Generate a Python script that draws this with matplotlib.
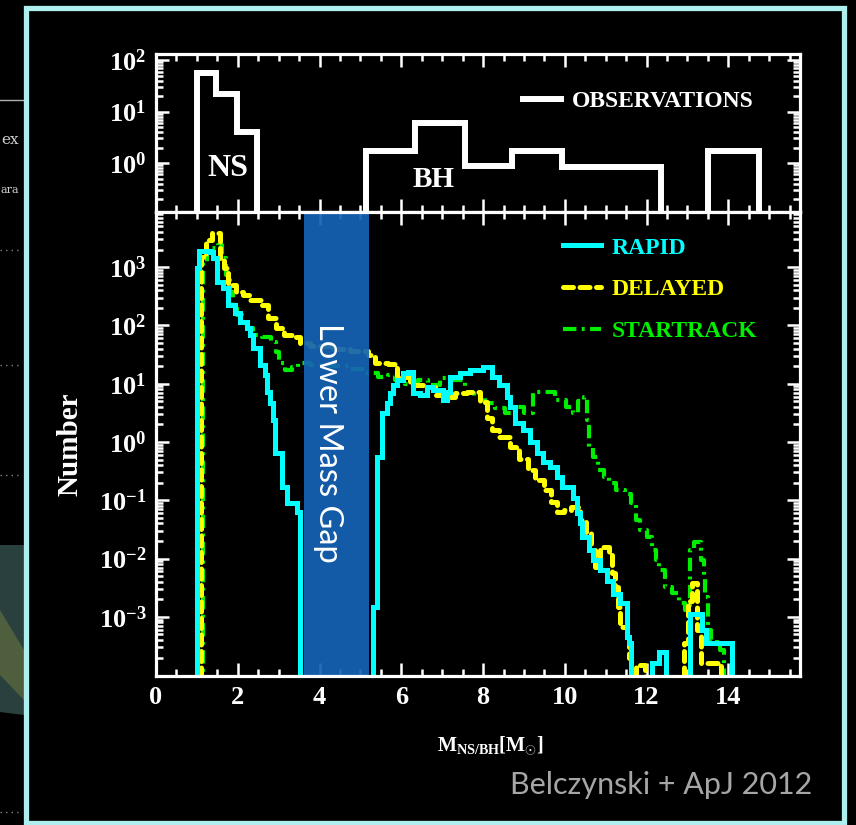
import numpy as np
import matplotlib
matplotlib.use("Agg")
import matplotlib.pyplot as plt
from matplotlib.ticker import FixedLocator, FixedFormatter, LogLocator, NullFormatter
from matplotlib.patches import Rectangle, Polygon
from matplotlib.lines import Line2D

plt.rcParams['font.family'] = ['Liberation Serif', 'DejaVu Serif']
plt.rcParams['font.weight'] = 'bold'
plt.rcParams['axes.labelweight'] = 'bold'
plt.rcParams['mathtext.fontset'] = 'custom'
plt.rcParams['mathtext.rm'] = 'Liberation Serif:bold'
plt.rcParams['mathtext.bf'] = 'Liberation Serif:bold'
plt.rcParams['mathtext.it'] = 'Liberation Serif:italic:bold'

Z = 1e-8  # empty bin (below the log axis)

# ---------------- data ----------------
obs_x = [0.90, 1.00, 1.46, 1.98, 2.47, 5.13, 6.33, 7.55, 8.72, 9.92, 12.36, 13.49, 14.76, 15.5]
obs_y = [Z, 56, 22, 4.0, Z, 1.7, 6.0, 0.87, 1.7, 0.85, Z, 1.7, Z, Z]

rapid_x = [0.90, 1.00, 1.05, 1.32, 1.39, 1.49, 1.64, 1.76, 1.93, 2.05, 2.22, 2.30, 2.37, 2.54,
           2.66, 2.71, 2.79, 2.86, 2.91, 3.08, 3.20, 3.44, 3.52,
           5.30, 5.40, 5.52, 5.64, 5.72, 5.79, 5.89, 6.03, 6.16, 6.28, 6.45, 6.62, 6.77, 7.01,
           7.11, 7.18, 7.43, 7.67, 7.99, 8.23, 8.40, 8.58, 8.65, 8.77, 8.97, 9.14, 9.31, 9.46,
           9.63, 9.80, 9.94, 10.19, 10.29, 10.36, 10.43, 10.60, 10.68, 10.85, 11.02, 11.17,
           11.34, 11.51, 11.53, 11.58, 11.63,
           12.14, 12.31, 12.48, 13.05, 13.36, 13.46, 14.10, 14.5]
rapid_y = [Z, 960, 1900, 1800, 1420, 550, 435, 223, 163, 114, 90, 68, 41, 21,
           14, 7.2, 4.7, 2.4, 0.65, 0.17, 0.089, 0.063, Z,
           0.0015, 0.55, 3.2, 4.7, 6.9, 9.5, 11.5, 15, 16, 6.9, 6.3, 8.7, 7.8, 5.2,
           7.2, 13, 15, 17, 19, 13, 9.5, 5.9, 4.0, 2.1, 1.6, 1.0, 0.65, 0.46,
           0.37, 0.25, 0.17, 0.11, 0.060, 0.041, 0.023, 0.014, 0.0095, 0.0063, 0.0042, 0.0025,
           0.0017, 0.0013, 4.5e-4, 3.5e-4, Z,
           1.6e-4, 2.5e-4, Z, 1.1e-3, 5.9e-4, 3.5e-4, Z, Z]

delayed_x = [0.90, 1.10, 1.22, 1.37, 1.56, 1.66, 1.76, 1.95, 2.13, 2.30,
             2.59, 2.74, 2.93, 3.13, 3.32, 3.52, 3.76, 4.25, 4.74, 5.18,
             5.35, 5.67, 5.89, 6.21, 6.55, 6.82, 7.06, 7.31, 7.60, 7.92,
             8.09, 8.23, 8.40, 8.65, 8.89, 9.09, 9.28, 9.48, 9.65, 9.82,
             9.99, 10.16, 10.36, 10.51, 10.63, 10.73, 10.85, 11.08, 11.15, 11.22,
             11.30, 11.36, 11.51, 11.56, 11.63, 11.73, 11.95, 12.92, 13.02, 13.12,
             13.24, 13.34, 13.83, 14.5]
delayed_y = [Z, 1500, 2900, 3800, 1420, 960, 490, 370, 330, 270,
             220, 134, 90, 68, 63, 50, 45, 40, 36, 31,
             23, 22, 13, 9.5, 8.7, 6.3, 5.9, 6.9, 7.2, 4.8,
             2.6, 1.6, 1.2, 0.81, 0.52, 0.33, 0.22, 0.15, 0.093, 0.063,
             0.068, 0.076, 0.046, 0.027, 0.014, 0.0071, 0.016, 0.013, 0.0056, 0.0032,
             0.0015, 6.8e-4, 4.5e-4, 2e-4, Z, 1.5e-4, Z, 3.5e-4, 1.9e-3, 3.8e-3,
             6e-4, 1.6e-4, Z, Z]

startrack_x = [0.90, 1.15, 1.25, 1.39, 1.51, 1.61, 1.71, 1.81, 1.88, 1.98,
               2.10, 2.22, 2.37, 2.59, 2.81, 2.93, 3.01, 3.15, 3.32, 3.47,
               3.76, 4.25, 4.74, 5.11, 5.42, 5.67, 5.84, 6.08, 6.40, 6.65,
               6.94, 7.26, 7.55, 7.79, 8.04, 8.28, 8.53, 8.77, 8.99, 9.21,
               9.50, 9.75, 10.04, 10.21, 10.33, 10.48, 10.55, 10.60, 10.70, 10.80,
               10.95, 11.09, 11.24, 11.46, 11.61, 11.73, 11.85, 12.00, 12.12, 12.24,
               12.31, 12.44, 12.63, 12.80, 12.94, 13.05, 13.17, 13.32, 13.40, 13.44,
               13.51, 13.58, 13.71, 13.80, 13.90, 14.5]
startrack_y = [Z, 1200, 2100, 2100, 2400, 1420, 730, 370, 220, 150,
               114, 90, 68, 63, 52, 35, 23, 17, 19, 23,
               21, 20, 18, 15, 13, 14, 11.5, 10, 11.5, 9.5,
               12.5, 11.5, 6.9, 5.9, 4.7, 3.8, 3.2, 4.0, 3.2, 7.2,
               7.2, 5.2, 4.0, 3.2, 5.0, 5.9, 2.4, 0.81, 0.55, 0.33,
               0.25, 0.2, 0.15, 0.13, 0.089, 0.046, 0.031, 0.023, 0.014, 0.0094,
               0.0063, 0.0032, 0.0026, 0.0017, 0.0013, 0.014, 0.019, 0.0094, 0.0048, 0.0022,
               5.9e-4, 4e-4, 3.5e-4, 2.7e-4, Z, Z]

gap_range = [3.62, 5.21]

xtick_vals = [0, 2, 4, 6, 8, 10, 12, 14]
xtick_labels = ['0', '2', '4', '6', '8', '10', '12', '14']
top_ytick_vals = [1, 10, 100]
top_ytick_labels = [r'$\mathbf{10^{0}}$', r'$\mathbf{10^{1}}$', r'$\mathbf{10^{2}}$']
low_ytick_vals = [1e-3, 1e-2, 1e-1, 1, 10, 100, 1000]
low_ytick_labels = [r'$\mathbf{10^{-3}}$', r'$\mathbf{10^{-2}}$', r'$\mathbf{10^{-1}}$',
                    r'$\mathbf{10^{0}}$', r'$\mathbf{10^{1}}$', r'$\mathbf{10^{2}}$',
                    r'$\mathbf{10^{3}}$']

# ---------------- figure ----------------
fig = plt.figure(figsize=(8.56, 8.25), dpi=100, facecolor='black')

# slide remnants on the far left (behind everything)
fig.add_artist(Line2D([0, 24 / 856], [1 - 100 / 825] * 2, color='#b0b0b0', lw=1, zorder=-2))
for yy in [250, 365, 475, 587, 699, 812]:
    fig.add_artist(Line2D([0, 22 / 856], [1 - yy / 825] * 2, color='#808080', lw=1,
                          ls=(0, (1, 3)), zorder=-2))
fig.add_artist(Polygon([[0, 1 - 545 / 825], [24 / 856, 1 - 545 / 825],
                        [24 / 856, 1 - 715 / 825], [0, 1 - 712 / 825]],
                       closed=True, facecolor='#2a403e', edgecolor='none', zorder=-2))
fig.add_artist(Polygon([[0, 1 - 610 / 825], [24 / 856, 1 - 650 / 825],
                        [24 / 856, 1 - 700 / 825], [0, 1 - 675 / 825]],
                       closed=True, facecolor='#4f5f3e', edgecolor='none', zorder=-2))
fig.text(0.001, 1 - 140 / 825, 'ex', color='#d0d0d0', fontsize=11, family='DejaVu Serif',
         fontweight='normal', va='center', zorder=-2)
fig.text(0.001, 1 - 190 / 825, 'ara', color='#d0d0d0', fontsize=8, family='DejaVu Serif',
         fontweight='normal', va='center', zorder=-2)

# black slide panel with pale turquoise frame
fig.add_artist(Rectangle((26 / 856, 1 - 823 / 825), (844 - 26) / 856, (823 - 8) / 825,
                         facecolor='none', edgecolor='#afeeee', lw=3.8, zorder=10))

ax1 = fig.add_axes([0.1822, 0.7430, 0.7523, 0.1915])
ax2 = fig.add_axes([0.1822, 0.1806, 0.7523, 0.5624], sharex=ax1)

for ax in (ax1, ax2):
    ax.set_facecolor('black')
    ax.set_yscale('log')
    for s in ax.spines.values():
        s.set_color('white')
        s.set_linewidth(2.3)
        s.set_zorder(5)
    ax.tick_params(which='both', direction='in', top=True, right=True,
                   colors='white', labelcolor='white', width=1.8, labelsize=19)
    ax.tick_params(which='major', length=9.5, pad=7)
    ax.tick_params(which='minor', length=5)
    ax.set_xticks(xtick_vals, xtick_labels)
    ax.set_xticks(np.arange(0, 15.8, 0.5), minor=True)
    ax.yaxis.set_minor_locator(LogLocator(base=10, subs=np.arange(2, 10), numticks=30))
    ax.yaxis.set_minor_formatter(NullFormatter())

ax1.set_xlim(0, 15.75)
ax1.set_ylim(0.112, 131)
ax2.set_ylim(9.66e-5, 8.8e3)
ax1.tick_params(labelbottom=False)
ax1.yaxis.set_major_locator(FixedLocator(top_ytick_vals))
ax1.yaxis.set_major_formatter(FixedFormatter(top_ytick_labels))
ax2.yaxis.set_major_locator(FixedLocator(low_ytick_vals))
ax2.yaxis.set_major_formatter(FixedFormatter(low_ytick_labels))

# observations
ax1.plot(obs_x, obs_y, drawstyle='steps-post', color='white', lw=4.3,
         solid_joinstyle='miter', label='OBSERVATIONS')
ax1.text(1.76, 0.80, 'NS', color='white', fontsize=23, ha='center', va='center')
ax1.text(6.8, 0.47, 'BH', color='white', fontsize=21, ha='center', va='center')
ax1.legend(loc='upper left', bbox_to_anchor=(0.570, 0.768), frameon=False,
           fontsize=17, labelcolor='linecolor', handlelength=1.6, handletextpad=0.45,
           borderpad=0, borderaxespad=0)

# models
ax2.plot(startrack_x, startrack_y, drawstyle='steps-post', color='#00ee00', lw=3.0,
         dashes=(3.2, 1.3, 0.7, 1.3), dash_capstyle='butt', label='STARTRACK', zorder=2)
ax2.plot(delayed_x, delayed_y, drawstyle='steps-post', color='#ffff00', lw=3.6,
         dashes=(2.0, 1.3), dash_capstyle='round', label='DELAYED', zorder=2.1)
ax2.plot(rapid_x, rapid_y, drawstyle='steps-post', color='#00ffff', lw=3.6,
         solid_joinstyle='miter', label='RAPID', zorder=2.2)

h, l = ax2.get_legend_handles_labels()
order = [2, 1, 0]
ax2.legend([h[i] for i in order], [l[i] for i in order], loc='upper left',
           bbox_to_anchor=(0.632, 0.946), frameon=False, fontsize=17,
           labelcolor='linecolor', handlelength=1.6, handletextpad=0.45,
           labelspacing=0.86, borderpad=0, borderaxespad=0)

# lower mass gap box
ax2.axvspan(gap_range[0], gap_range[1], facecolor='#1563b5', alpha=0.93, lw=0, zorder=3)
ax2.text(3.99, 0.502, 'Lower Mass Gap', transform=ax2.get_xaxis_transform(),
         rotation=270, rotation_mode='anchor', ha='center', va='baseline',
         color='white', fontsize=23.5, family='Lato', fontweight='normal', zorder=4)

ax2.set_ylabel('Number', color='white', fontsize=21, fontweight='bold', va='center')
ax2.yaxis.set_label_coords(-0.134, 0.5)
ax2.set_xlabel(r'$\mathbf{M_{NS/BH}[M_{\odot}]}$', color='white', fontsize=14.5, va='center')
ax2.xaxis.set_label_coords(0.519, -0.149)

fig.text(812 / 856, 1 - 785 / 825, 'Belczynski + ApJ 2012', color='#a6a6a6', fontsize=22,
         family='Lato', fontweight='normal', ha='right', va='center')

fig.savefig('out.png', dpi=100, facecolor='black')
